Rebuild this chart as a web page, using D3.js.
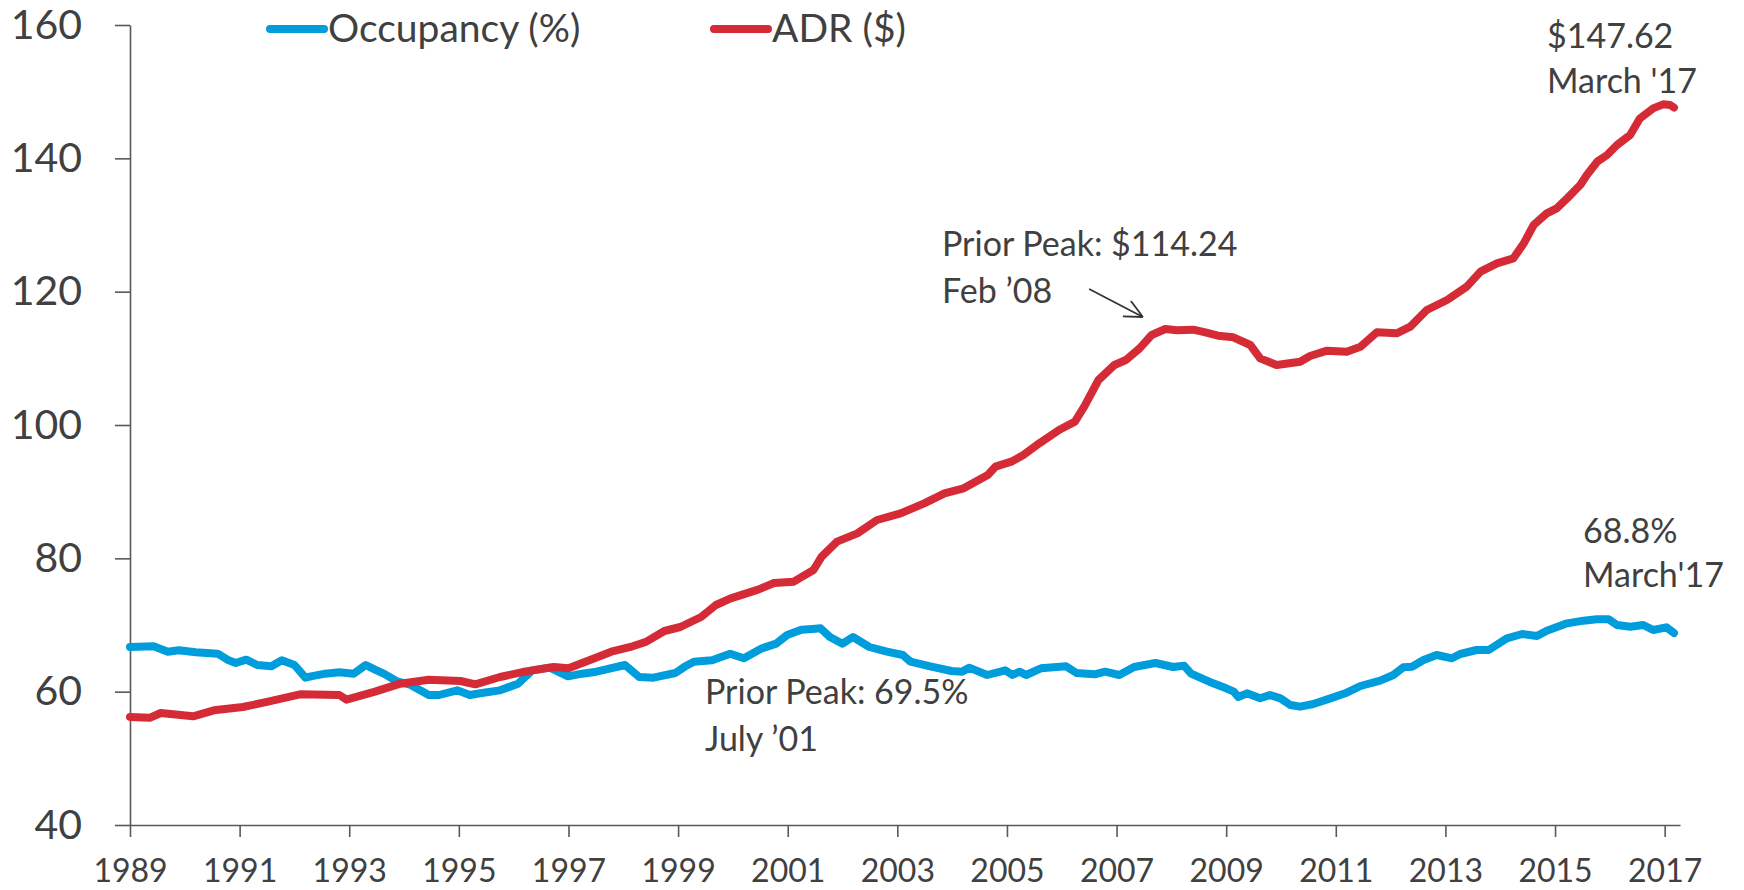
<!DOCTYPE html>
<html><head><meta charset="utf-8">
<script src="https://cdn.jsdelivr.net/npm/d3@7"></script>
<style>
body{margin:0;background:#fff;}
svg{display:block;}
text{font-family:Lato, "Open Sans", sans-serif; fill:#404040;}
</style></head>
<body><svg id="chart" width="1744" height="890"></svg>
<script>
// ---- data ----
const seriesNames = ["Occupancy (%)", "ADR ($)"];
const yTickValues = [40, 60, 80, 100, 120, 140, 160];
const xTickYears = [1989,1991,1993,1995,1997,1999,2001,2003,2005,2007,2009,2011,2013,2015,2017];

const occupancyYears = [1989.0,1989.43,1989.69,1989.89,1990.2,1990.6,1990.8,1990.93,1991.12,1991.32,1991.58,1991.77,1992.0,1992.2,1992.3,1992.56,1992.82,1993.08,1993.3,1993.47,1993.63,1993.86,1994.12,1994.45,1994.64,1994.97,1995.2,1995.42,1995.75,1996.08,1996.34,1996.66,1996.99,1997.25,1997.51,1998.03,1998.29,1998.55,1998.95,1999.13,1999.29,1999.62,1999.95,2000.2,2000.53,2000.79,2000.99,2001.25,2001.45,2001.6,2001.77,2002.0,2002.19,2002.49,2002.81,2003.1,2003.24,2003.6,2003.99,2004.18,2004.31,2004.64,2004.97,2005.1,2005.23,2005.35,2005.62,2006.08,2006.27,2006.6,2006.79,2007.05,2007.32,2007.71,2008.03,2008.23,2008.36,2008.69,2009.0,2009.14,2009.22,2009.38,2009.62,2009.8,2009.99,2010.17,2010.35,2010.59,2010.9,2011.2,2011.45,2011.81,2012.05,2012.23,2012.39,2012.6,2012.84,2013.12,2013.27,2013.57,2013.79,2014.12,2014.4,2014.67,2014.85,2015.22,2015.52,2015.76,2015.98,2016.13,2016.37,2016.61,2016.79,2017.03,2017.17];
const occupancyValues = [66.7,66.8,66.0,66.2,65.9,65.7,64.7,64.3,64.8,64.0,63.8,64.7,64.0,62.1,62.3,62.7,62.9,62.7,64.0,63.3,62.7,61.6,61.0,59.5,59.5,60.2,59.5,59.8,60.2,61.2,63.2,63.6,62.3,62.7,63.0,64.0,62.2,62.1,62.8,63.8,64.5,64.7,65.7,65.0,66.5,67.2,68.5,69.3,69.4,69.5,68.2,67.2,68.2,66.7,66.0,65.5,64.5,63.8,63.1,63.0,63.6,62.5,63.2,62.5,63.0,62.5,63.5,63.8,62.8,62.6,63.0,62.5,63.7,64.3,63.7,63.9,62.7,61.5,60.5,60.0,59.2,59.75,59.0,59.5,59.0,58.0,57.75,58.15,59.0,59.85,60.85,61.65,62.5,63.65,63.75,64.75,65.5,65.0,65.65,66.25,66.25,68.0,68.65,68.35,69.15,70.25,70.65,70.85,70.85,70.0,69.75,70.0,69.25,69.65,68.8];

const adrYears = [1989.0,1989.37,1989.56,1990.15,1990.53,1991.06,1991.52,1992.1,1992.82,1992.95,1993.47,1993.93,1994.45,1995.03,1995.3,1995.75,1996.2,1996.73,1997.0,1997.38,1997.78,1998.17,1998.42,1998.75,1999.04,1999.42,1999.69,1999.96,2000.46,2000.75,2001.11,2001.47,2001.62,2001.9,2002.27,2002.63,2003.06,2003.49,2003.86,2004.21,2004.65,2004.79,2005.08,2005.3,2005.59,2005.95,2006.24,2006.41,2006.67,2006.96,2007.17,2007.42,2007.64,2007.89,2008.1,2008.4,2008.62,2008.85,2009.13,2009.44,2009.62,2009.92,2010.35,2010.53,2010.84,2011.2,2011.45,2011.75,2012.11,2012.36,2012.66,2013.03,2013.39,2013.64,2013.94,2014.24,2014.43,2014.61,2014.85,2015.03,2015.22,2015.46,2015.58,2015.77,2015.95,2016.13,2016.37,2016.55,2016.79,2016.97,2017.1,2017.17];
const adrValues = [56.2,56.1,56.8,56.3,57.2,57.7,58.5,59.6,59.5,58.8,60.0,61.2,61.8,61.6,61.1,62.2,63.0,63.7,63.5,64.7,66.0,66.8,67.5,69.1,69.7,71.2,73.0,74.0,75.3,76.3,76.5,78.25,80.25,82.5,83.75,85.75,86.75,88.25,89.75,90.5,92.5,93.75,94.5,95.5,97.25,99.25,100.5,102.75,106.75,109.0,109.75,111.5,113.5,114.4,114.2,114.3,113.9,113.4,113.15,112.0,110.0,109.0,109.5,110.35,111.15,111.0,111.75,113.9,113.75,114.75,117.25,118.75,120.75,123.0,124.25,125.0,127.25,130.0,131.75,132.5,134.0,136.0,137.5,139.5,140.5,142.0,143.5,146.0,147.5,148.1,148.0,147.62];

const seriesColors = ["#009ddc", "#d52b36"];

// ---- chart ----
const svg = d3.select("#chart");
const x = d3.scaleLinear().domain([1989, 2017.28]).range([130, 1680]);
const y = d3.scaleLinear().domain([40, 160]).range([825, 25]);

const axisColor = "#595959";

const yAxis = svg.append("g").attr("transform", "translate(130,0)")
  .call(d3.axisLeft(y).tickValues(yTickValues).tickSize(15).tickSizeOuter(0).tickPadding(33));
yAxis.selectAll("text").style("font-size", "41px").attr("fill", "#404040");

const xAxis = svg.append("g").attr("transform", "translate(0,825)")
  .call(d3.axisBottom(x).tickValues(xTickYears).tickFormat(d3.format("d")).tickSize(12).tickSizeOuter(0).tickPadding(22));
xAxis.selectAll("text").style("font-size", "32px").attr("fill", "#404040");

[yAxis, xAxis].forEach(a => {
  a.select(".domain").attr("stroke", axisColor).attr("stroke-width", 1.6);
  a.selectAll(".tick line").attr("stroke", axisColor).attr("stroke-width", 1.6);
});

const line = d3.line().x(d => x(d[0])).y(d => y(d[1])).curve(d3.curveLinear);
const occData = occupancyYears.map((yr, i) => [yr, occupancyValues[i]]);
const adrData = adrYears.map((yr, i) => [yr, adrValues[i]]);

svg.append("path").datum(occData).attr("d", line)
  .attr("fill", "none").attr("stroke", seriesColors[0]).attr("stroke-width", 8)
  .attr("stroke-linejoin", "round").attr("stroke-linecap", "round");
svg.append("path").datum(adrData).attr("d", line)
  .attr("fill", "none").attr("stroke", seriesColors[1]).attr("stroke-width", 8)
  .attr("stroke-linejoin", "round").attr("stroke-linecap", "round");

// legend
const legendX = [270, 714];
seriesNames.forEach((name, i) => {
  const g = svg.append("g").attr("transform", `translate(${legendX[i]},0)`);
  g.append("line").attr("x1", 0).attr("x2", 54).attr("y1", 29).attr("y2", 29)
    .attr("stroke", seriesColors[i]).attr("stroke-width", 8).attr("stroke-linecap", "round");
  g.append("text").attr("x", 58).attr("y", 42).style("font-size", "39px").text(name);
});

// annotations
function note(lines, px, py, gap) {
  const t = svg.append("text").style("font-size", "34px");
  lines.forEach((s, i) => t.append("tspan").attr("x", px).attr("y", py + i * gap).text(s));
}
note(["Prior Peak: $114.24", "Feb \u201908"], 942, 256, 47);
note(["$147.62", "March '17"], 1547, 48, 45);
note(["68.8%", "March'17"], 1583, 543, 44);
note(["Prior Peak: 69.5%", "July \u201901"], 705, 704, 47);

// arrow
const tail = [x(2006.5), y(120.4)], tip = [x(2007.48), y(116.2)];
const ang = Math.atan2(tip[1] - tail[1], tip[0] - tail[0]);
const ah = 20, aw = 0.45;
svg.append("line").attr("x1", tail[0]).attr("y1", tail[1]).attr("x2", tip[0]).attr("y2", tip[1])
  .attr("stroke", "#333").attr("stroke-width", 1.8);
[ang + Math.PI - aw, ang + Math.PI + aw].forEach(a => {
  svg.append("line").attr("x1", tip[0]).attr("y1", tip[1])
    .attr("x2", tip[0] + ah * Math.cos(a)).attr("y2", tip[1] + ah * Math.sin(a))
    .attr("stroke", "#333").attr("stroke-width", 1.8);
});
</script></body></html>
